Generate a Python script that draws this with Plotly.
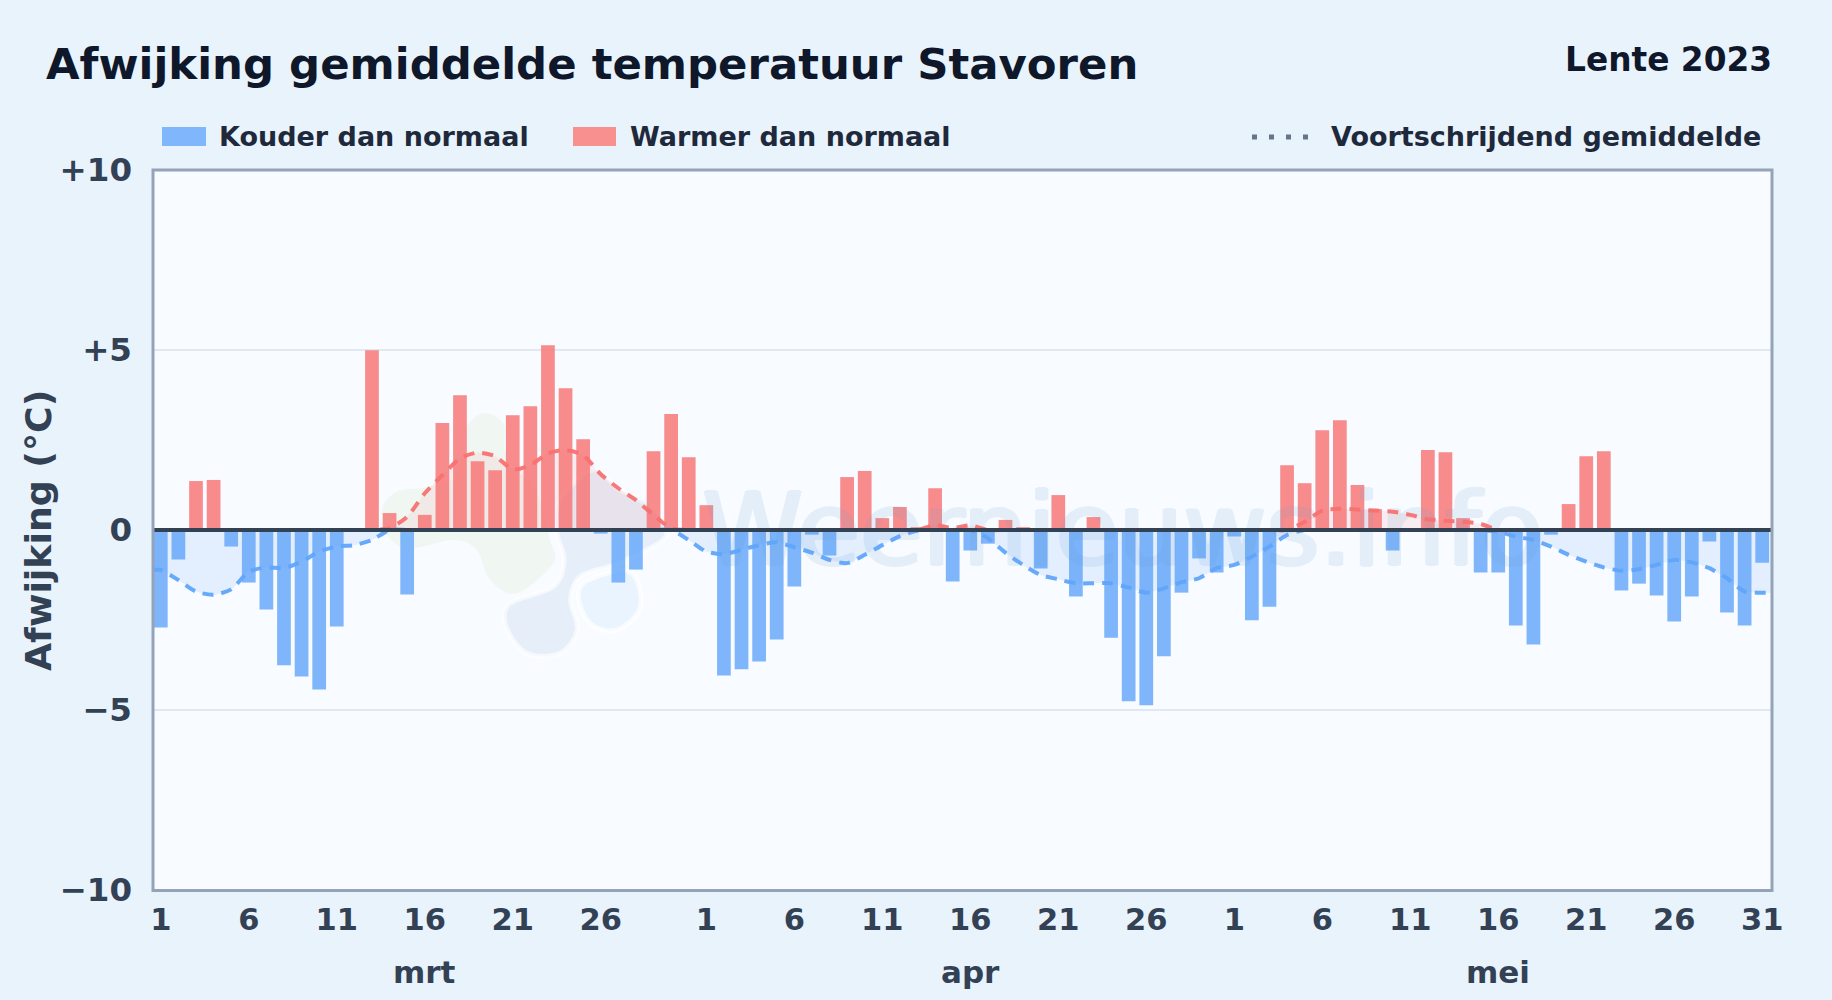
import plotly.graph_objects as go

days = list(range(92))
tick_pos = [0, 5, 10, 15, 20, 25, 31, 36, 41, 46, 51, 56, 61, 66, 71, 76, 81, 86, 91]
tick_labels = ["1", "6", "11", "16", "21", "26", "1", "6", "11", "16", "21", "26", "1", "6", "11", "16", "21", "26", "31"]
month_pos = [15, 46, 76]
month_labels = ["mrt", "apr", "mei"]
y_ticks = [-10, -5, 0, 5, 10]
y_tick_labels = ["−10", "−5", "0", "+5", "+10"]

deviation = [
    -2.71, -0.82, 1.36, 1.39, -0.46, -1.46, -2.21, -3.76, -4.07, -4.43, -2.68, 0, 4.99, 0.47, -1.79, 0.42,
    2.97, 3.74, 1.91, 1.66, 3.19, 3.44, 5.13, 3.94, 2.52, -0.1, -1.46, -1.10, 2.19, 3.22, 2.02, 0.69,
    -4.04, -3.87, -3.65, -3.04, -1.57, -0.13, -0.71, 1.47, 1.64, 0.33, 0.64, 0.08, 1.16, -1.43, -0.57, -0.38,
    0.28, 0.08, -1.07, 0.97, -1.85, 0.36, -2.99, -4.76, -4.87, -3.51, -1.74, -0.79, -1.18, -0.18, -2.51, -2.13,
    1.80, 1.30, 2.77, 3.05, 1.25, 0.58, -0.57, 0, 2.22, 2.16, 0.33, -1.18, -1.18, -2.65, -3.18, -0.13,
    0.72, 2.05, 2.19, -1.68, -1.49, -1.82, -2.54, -1.85, -0.32, -2.29, -2.65, -0.91,
]
rolling = [
    -1.11, -1.39, -1.71, -1.80, -1.65, -1.16, -1.04, -1.06, -0.88, -0.60, -0.46, -0.42, -0.28, 0.05, 0.37, 1.02,
    1.52, 1.99, 2.15, 2.05, 1.68, 1.80, 2.13, 2.22, 2.08, 1.55, 1.16, 0.83, 0.42, 0.05, -0.28, -0.60,
    -0.67, -0.55, -0.42, -0.34, -0.48, -0.63, -0.83, -0.92, -0.69, -0.42, -0.17, -0.02, 0.14, 0.05, 0.13, -0.23,
    -0.63, -0.97, -1.25, -1.37, -1.48, -1.48, -1.48, -1.60, -1.74, -1.62, -1.45, -1.34, -1.06, -0.97, -0.74, -0.46,
    -0.14, 0.23, 0.54, 0.59, 0.57, 0.54, 0.51, 0.42, 0.30, 0.26, 0.23, 0.17, -0.05, -0.18, -0.28, -0.46,
    -0.69, -0.88, -1.04, -1.13, -1.09, -0.97, -0.83, -0.90, -1.06, -1.34, -1.71, -1.74,
]

cold = [v if v < 0 else None for v in deviation]
warm = [v if v > 0 else None for v in deviation]
# the smoothed line runs on to the plot edges at both ends
line_x = [-0.5] + days + [91.5]
line_y = [rolling[0]] + rolling + [rolling[-1]]
roll_low = [min(v, 0) for v in line_y]
roll_high = [max(v, 0) for v in line_y]

FONT = "DejaVu Sans"
INK = "#0f172a"
TEXT = "#334155"
LEGEND_TEXT = "#1e293b"
BLUE_BAR = "rgba(96,165,250,0.8)"
RED_BAR = "rgba(248,113,113,0.8)"
WM = "#629fd5"
W, H = 1832, 1000
L, R, T, B = 152, 1771, 170, 890

def px(x):
    return (x - L) / (R - L)

def py(y):
    return (B - y) / (B - T)

def blob(points):
    """Closed smooth outline through crop-coordinates of the faint background logo."""
    pts = [(360 + a / 3, 400 + b / 3) for a, b in points]
    n = len(pts)
    d = f"M {px(pts[0][0]):.5f} {py(pts[0][1]):.5f}"
    for i in range(n):
        p0, p1, p2, p3 = pts[i - 1], pts[i], pts[(i + 1) % n], pts[(i + 2) % n]
        c1 = (p1[0] + (p2[0] - p0[0]) / 6, p1[1] + (p2[1] - p0[1]) / 6)
        c2 = (p2[0] - (p3[0] - p1[0]) / 6, p2[1] - (p3[1] - p1[1]) / 6)
        d += f" C {px(c1[0]):.5f} {py(c1[1]):.5f} {px(c2[0]):.5f} {py(c2[1]):.5f} {px(p2[0]):.5f} {py(p2[1]):.5f}"
    return d + " Z"

logo_green = [(65, 330), (110, 275), (200, 262), (290, 225), (315, 90), (370, 40), (430, 70), (440, 170),
              (530, 280), (570, 420), (580, 490), (470, 580), (390, 540), (350, 450), (280, 420), (150, 445), (85, 410)]
logo_dark = [(590, 395), (612, 480), (580, 560), (450, 610), (438, 680), (500, 760), (600, 760), (652, 690),
             (632, 600), (660, 530), (760, 495), (860, 450), (920, 400), (870, 310), (780, 270), (700, 210), (600, 300)]
logo_light = [(655, 590), (685, 540), (810, 515), (842, 620), (770, 690), (690, 670)]

fig = go.Figure()
# faint watermark text below all marks
fig.add_trace(go.Scatter(x=[54.67], y=[-0.27], mode="text", text=["Weernieuws.info"], textposition="middle center", opacity=0.13,
                         textfont=dict(family=FONT, size=102, color=WM,
                                       shadow=f"2px 0 0 {WM}, -2px 0 0 {WM}, 0 1px 0 {WM}, 0 -1px 0 {WM}"),
                         showlegend=False, hoverinfo="skip", cliponaxis=True))
fig.add_trace(go.Bar(x=days, y=cold, name="Kouder dan normaal", marker=dict(color=BLUE_BAR, line_width=0), width=0.78, showlegend=False))
fig.add_trace(go.Bar(x=days, y=warm, name="Warmer dan normaal", marker=dict(color=RED_BAR, line_width=0), width=0.78, showlegend=False))
fig.add_trace(go.Scatter(x=line_x, y=roll_low, mode="lines", line=dict(color="rgba(96,165,250,0.95)", width=4, dash="11px,8px", shape="spline", smoothing=0.7),
                         fill="tozeroy", fillcolor="rgba(96,165,250,0.14)", showlegend=False, hoverinfo="skip"))
fig.add_trace(go.Scatter(x=line_x, y=roll_high, mode="lines", line=dict(color="rgba(248,113,113,0.95)", width=4, dash="11px,8px", shape="spline", smoothing=0.7),
                         fill="tozeroy", fillcolor="rgba(248,113,113,0.10)", showlegend=False, hoverinfo="skip"))

shapes = [
    dict(type="path", xref="paper", yref="paper", path=blob(logo_green), fillcolor="rgba(190,226,160,0.12)", line=dict(width=0), layer="below"),
    dict(type="path", xref="paper", yref="paper", path=blob(logo_dark), fillcolor="rgba(120,170,215,0.14)", line=dict(color="rgba(255,255,255,0.6)", width=5), layer="below"),
    dict(type="path", xref="paper", yref="paper", path=blob(logo_light), fillcolor="rgba(150,205,250,0.14)", line=dict(color="rgba(255,255,255,0.7)", width=5), layer="below"),
    dict(type="line", xref="paper", x0=0, x1=1, yref="y", y0=0, y1=0, line=dict(color="#334155", width=4), layer="above"),
    dict(type="rect", xref="paper", yref="paper", x0=px(153), x1=px(1772), y0=py(890.5), y1=py(170), line=dict(color="#94a3b8", width=3), layer="above"),
    dict(type="rect", xref="paper", yref="paper", x0=px(162), x1=px(206), y0=py(146), y1=py(127), fillcolor="#80b6fb", line_width=0),
    dict(type="rect", xref="paper", yref="paper", x0=px(573), x1=px(616), y0=py(146), y1=py(127), fillcolor="#f89090", line_width=0),
    dict(type="line", xref="paper", yref="paper", x0=px(1252), x1=px(1308), y0=py(137), y1=py(137), line=dict(color="#64748b", width=5, dash="5px,12px")),
]

def text(x, y, s, size, color, anchor="left", xref="paper", yref="paper", angle=0):
    return dict(x=x, y=y, xref=xref, yref=yref, text=s, showarrow=False, xanchor=anchor, yanchor="middle", textangle=angle,
                font=dict(family=FONT, size=size, color=color, weight="bold"))

annotations = [
    text(px(44), py(64), "Afwijking gemiddelde temperatuur Stavoren", 43.4, INK),
    text(px(1774), py(60), "Lente 2023", 32.8, INK, anchor="right"),
    text(px(217), py(137), "Kouder dan normaal", 27, LEGEND_TEXT),
    text(px(628), py(137), "Warmer dan normaal", 27, LEGEND_TEXT),
    text(px(1763), py(137), "Voortschrijdend gemiddelde", 27, LEGEND_TEXT, anchor="right"),
    text(px(38), py(531), "Afwijking (°C)", 36.3, TEXT, anchor="center", angle=-90),
]
for p, m in zip(month_pos, month_labels):
    annotations.append(text(p, py(972), m, 31, TEXT, anchor="center", xref="x"))

fig.update_layout(
    width=W, height=H, autosize=False,
    margin=dict(l=L, r=W - R, t=T, b=H - B),
    paper_bgcolor="#e9f3fc", plot_bgcolor="#f8fbff",
    barmode="overlay", shapes=shapes, annotations=annotations,
    font=dict(family=FONT, color=TEXT),
    xaxis=dict(range=[-0.5, 91.5], tickmode="array", tickvals=tick_pos, ticktext=tick_labels, showgrid=False, zeroline=False,
               showline=False, ticks="",
               tickfont=dict(family=FONT, size=30.5, color=TEXT, weight="bold"), ticklabelstandoff=8),
    yaxis=dict(range=[-10, 10], tickmode="array", tickvals=y_ticks, ticktext=y_tick_labels, showgrid=True, gridcolor="#e2e8f0", gridwidth=2, zeroline=False,
               showline=False, ticks="",
               tickfont=dict(family=FONT, size=32.5, color=TEXT, weight="bold"), ticklabelstandoff=19),
)
fig.write_html("out.html", config=dict(displayModeBar=False),
               post_script="document.documentElement.style.background='#e9f3fc';document.body.style.margin='0';document.body.style.background='#e9f3fc';")
